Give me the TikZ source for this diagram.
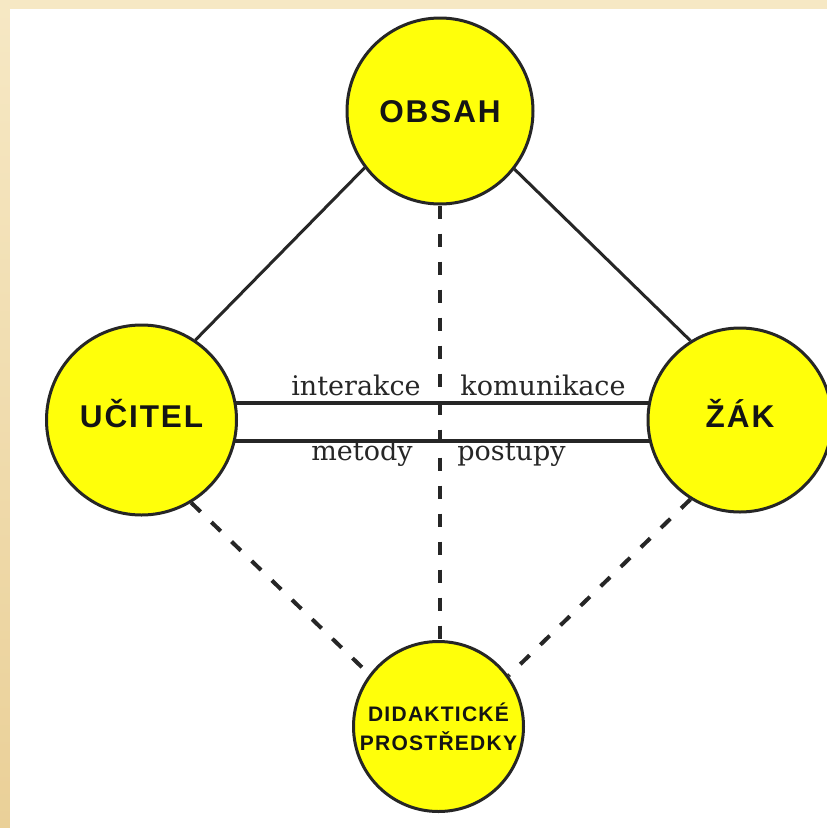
\documentclass[tikz,border=0pt]{standalone}
\usepackage{fontspec}
\setmainfont{DejaVu Serif}
\newfontfamily\lblfont[LetterSpace=6]{Liberation Sans}
\usetikzlibrary{backgrounds,calc}
\definecolor{beigetop}{HTML}{F6E8C4}
\definecolor{beigebot}{HTML}{EAD098}
\definecolor{nodeyellow}{HTML}{FFFF0A}
\definecolor{linegray}{HTML}{262626}
\begin{document}
\begin{tikzpicture}[x=1pt,y=-1pt,
  circ/.style={circle, draw=linegray, line width=3pt, fill=nodeyellow, inner sep=0pt,
    text=black!92, font=\lblfont\bfseries\fontsize{31.5}{31.5}\selectfont},
  caps/.style={text height=22.5pt, text depth=#1},
  conn/.style={line width=3pt, draw=linegray},
  dashline/.style={line width=4pt, draw=linegray, dash pattern=on 13pt off 15pt},
  lbl/.style={anchor=base, inner sep=0pt, text=black!85, font=\fontsize{27}{27}\selectfont}
]
\useasboundingbox (0,0) rectangle (827,828);
% nodes
\node[circ, caps=0pt, minimum size=186pt] (o) at (440,111) {OBSAH};
\node[circ, caps=7pt, minimum size=190pt] (u) at (141.5,420) {UČITEL};
\node[circ, caps=7pt, minimum size=184pt] (z) at (740,420) {ŽÁK};
\node[circ, minimum size=170pt, align=center,
  font=\lblfont\bfseries\fontsize{21}{29}\selectfont] (d) at (438.5,726.5) {DIDAKTICKÉ\\PROSTŘEDKY};
% labels
\node[lbl] (t1) at (356,395) {interakce};
\node[lbl] (t2) at (543,395) {komunikace};
\node[lbl] (t3) at (362,460) {metody};
\node[lbl] (t4) at (511.5,460) {postupy};
\begin{scope}[on background layer]
  \shade[top color=beigetop, bottom color=beigebot] (0,0) rectangle (827,828);
  \fill[white] (10,9) rectangle (827,828);
  \draw[conn] (o.217.5) -- (u.56);
  \draw[conn] (o.322) -- (z.122);
  \draw[line width=3.5pt, draw=linegray, double=white, double distance=34.5pt]
    ($(u.center)+(0,2)$) -- ($(z.center)+(0,2)$);
  \draw[dashline] (o.south) -- (o.south |- d.north);
  \draw[dashline] (u.301) -- (d.143.6);
  \draw[dashline] (z.238) -- (d.36.4);
\end{scope}
\end{tikzpicture}
\end{document}
